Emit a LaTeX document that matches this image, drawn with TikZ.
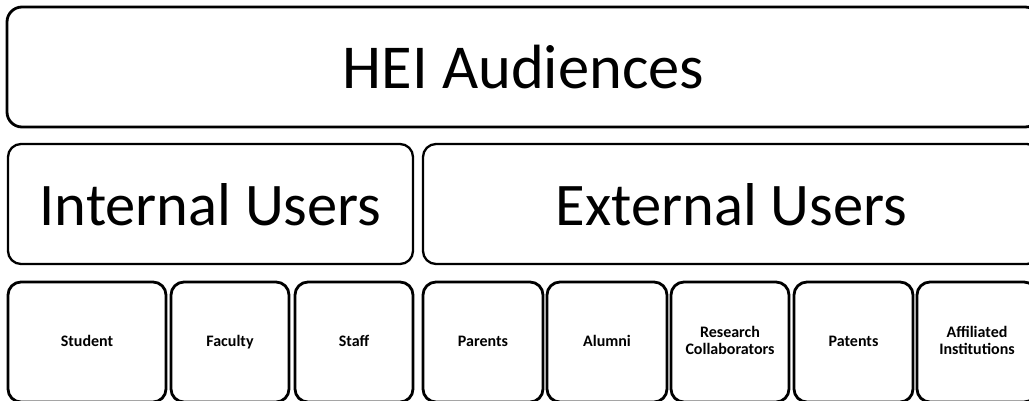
\documentclass[tikz,border=0pt]{standalone}
\usepackage{fontspec}
\setmainfont{Carlito}
\begin{document}
\begin{tikzpicture}[x=1pt,y=-1pt,
  tierbox/.style={draw=black, fill=white, rounded corners=#1, inner sep=0pt},
  headbox/.style={tierbox=15pt, line width=2.8pt, text height=42pt, text depth=0pt,
    font=\fontsize{62.5}{66}\selectfont},
  groupbox/.style={tierbox=13pt, line width=2.3pt, text height=42pt, text depth=0pt,
    font=\fontsize{60.5}{64}\selectfont},
  leafbox/.style={tierbox=13pt, line width=2.8pt, align=center,
    execute at begin node={\rule{0pt}{12pt}}, execute at end node={\rule[-3pt]{0pt}{0pt}},
    font=\bfseries\fontsize{16}{16.3}\selectfont}]
  \useasboundingbox (0,0) rectangle (1029,400);
  \clip (0,0) rectangle (1029,400);
  % top tier
  \node[headbox, minimum width=1033pt, minimum height=120pt] (hei) at (523.5,67) {HEI Audiences};
  % user groups
  \node[groupbox, minimum width=405pt, minimum height=120pt] (int) at (210.5,204) {Internal Users};
  \node[groupbox, minimum width=617pt, minimum height=120pt] (ext) at (731.5,204) {External Users};
  % audiences
  \node[leafbox, minimum width=158pt, minimum height=120pt] (stu) at (87,342) {Student};
  \node[leafbox, minimum width=118pt, minimum height=120pt] (fac) at (230,342) {Faculty};
  \node[leafbox, minimum width=118pt, minimum height=120pt] (stf) at (354,342) {Staff};
  \node[leafbox, minimum width=120pt, minimum height=120pt] (par) at (483,342) {Parents};
  \node[leafbox, minimum width=120pt, minimum height=120pt] (alu) at (607,342) {Alumni};
  \node[leafbox, minimum width=118pt, minimum height=120pt] (res) at (730,342) {Research\\Collaborators};
  \node[leafbox, minimum width=119pt, minimum height=120pt] (pat) at (853.5,342) {Patents};
  \node[leafbox, minimum width=120pt, minimum height=120pt] (aff) at (977,342) {Affiliated\\Institutions};
\end{tikzpicture}
\end{document}
